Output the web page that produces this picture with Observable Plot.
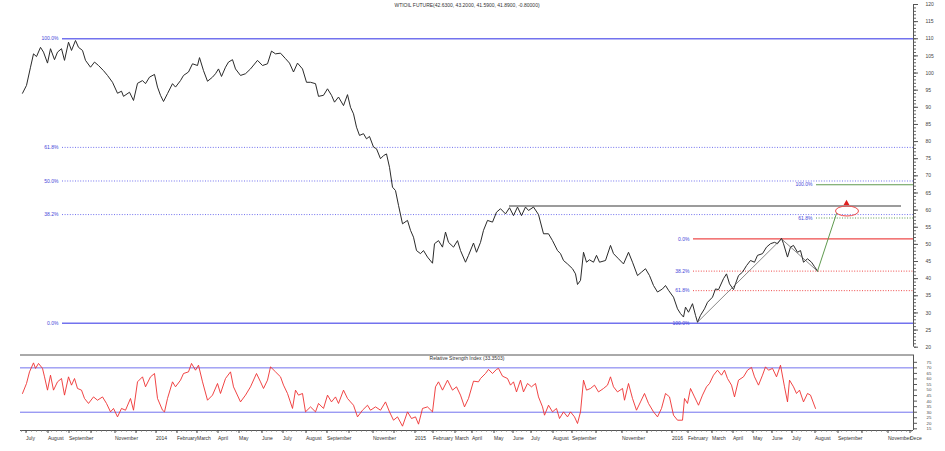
<!DOCTYPE html>
<html><head><meta charset="utf-8">
<script src="https://cdn.jsdelivr.net/npm/d3@7"></script>
<script src="https://cdn.jsdelivr.net/npm/@observablehq/plot@0.6"></script>
<style>
html,body{margin:0;padding:0;background:#fff;}
#chart svg{display:block;}
</style></head><body><div id="chart"></div>
<script>
// ---- data (x = trading-bar index) ----
const chartTitle = "WTIOIL FUTURE(42.6300, 43.2000, 41.5900, 41.8900, -0.80000)";
const rsiTitle = "Relative Strength Index (33.3503)";

const priceBars = [
  1,5,9,12,15,19,22,26,29,33,
  36,40,43,47,50,54,57,61,64,69,
  73,77,82,86,91,96,100,102,108,112,
  116,121,124,128,133,136,139,142,146,151,
  154,159,162,167,171,176,178,182,186,191,
  194,197,200,204,207,211,214,219,224,229,
  236,241,246,250,254,259,264,268,272,276,
  281,285,289,294,297,302,306,310,313,317,
  322,326,329,332,335,338,342,345,348,352,
  355,359,362,365,368,371,374,377,381,386,
  389,392,395,399,402,406,411,413,417,421,
  424,427,432,436,439,444,447,452,455,459,
  462,466,471,475,479,484,488,492,496,500,
  504,507,512,517,522,527,531,536,539,542,
  546,551,554,556,559,562,565,568,572,575,
  578,584,589,592,597,602,607,611,616,620,
  624,628,632,636,641,644,647,652,656,659,
  662,664,667,671,674,676,679,683,686,691,
  694,697,702,705,708,712,714,717,721,725,
  729,733,736,741,745,749,753,756,760,762,
  766,769,772,776,779,782,786,790,793,796
];
const priceValues = [
  94.1,96.4,101.7,105.6,104.8,107.5,106.1,102.9,107.1,103.9,
  106.1,107.1,103.7,109,106.6,109.5,107.5,106.6,103.7,101.7,
  103.2,102.2,100.7,99.3,97.3,94.1,94.7,93.2,94.4,92,
  97,97.8,96.9,98.8,99.6,95.9,93.5,91.7,94,96.9,
  95.9,97.8,99.3,100.3,102.7,102.2,104.5,100.7,97.6,98.8,
  99.8,101.2,99,101.7,103.2,103.9,101.2,99.3,99.8,101.2,
  103.7,102.2,102.7,106.4,105.6,105.8,104.2,102.9,100.3,102.9,
  101.2,97.3,97.3,96.9,93.2,93.5,95.4,93.5,91.5,93,
  90.5,93.7,90,88.1,84.2,81.8,82.3,80.8,81.5,78.4,
  77.9,75,75.9,76.4,72.5,66.7,65.7,61.4,56,57,
  54.1,52.1,48.2,47.3,48.2,46.3,44.5,50.2,51.1,49.2,
  53.6,50.6,49.2,51.1,48.2,44.8,46.8,50.4,47.7,50.6,
  54.1,57,56.5,59.4,60.4,58.9,60.7,58.4,60.9,58.4,
  60.9,59.9,60.9,58.7,53.1,53.1,51.1,48.2,47.3,45.3,
  44.3,42.9,41.4,38.3,39.5,47.7,44.8,45.5,44.8,46.8,
  44.8,45.3,49.7,47.3,45.8,44.3,47.7,44.8,40.9,41.9,
  42.9,40.9,38,36.1,37,38,36.6,34.6,31.2,29.8,
  28.8,31.7,30.2,32.7,29.3,27.3,29.3,31.2,33.1,34.6,
  37,36.8,40,41.4,38.5,36.8,38.5,40.9,41.9,43.8,
  45.3,44.8,46.8,47.3,49.2,50.2,50.6,50.2,51.8,50.2,
  46.3,49.2,49.7,47.7,48.2,44.8,45.8,44.8,43.5,42.2
];

const rsiBars = [
  1,5,8,12,14,17,21,23,26,29,
  32,36,40,43,47,50,53,56,60,63,
  67,72,76,81,85,89,92,96,100,104,
  109,112,116,121,124,129,133,136,141,143,
  146,151,154,159,162,167,170,174,177,181,
  186,191,196,199,204,209,212,219,224,229,
  235,239,242,246,249,254,259,262,266,271,
  274,277,281,284,289,294,297,302,306,310,
  314,317,322,326,329,332,336,341,346,349,
  354,359,364,368,372,376,381,386,390,394,
  397,401,406,411,414,417,421,426,431,435,
  439,443,447,452,457,459,464,467,471,475,
  477,481,486,489,492,495,499,502,506,510,
  514,517,521,523,527,531,535,538,542,546,
  549,553,556,559,562,565,569,573,577,582,
  586,589,592,596,601,603,607,611,615,619,
  623,627,632,636,640,644,648,652,656,661,
  663,666,669,673,677,681,685,688,692,696,
  700,703,706,710,713,717,722,726,730,733,
  737,741,744,747,751,755,759,763,766,768,
  772,775,778,782,786,789,794
];
const rsiValues = [
  46.9,55.9,66.4,74.5,69.5,74,69.5,61.9,49.9,63.4,
  49.9,57.4,60.4,45.4,61.9,54.4,60.4,51.4,49.9,42.4,
  37.9,43.8,40.8,43.8,37.9,30.3,33.4,25.8,33.4,31.8,
  42.4,31.8,57.4,61.9,52.9,61.9,64.9,42.4,31.8,30.3,
  42.4,57.4,52.9,58.9,64.9,66.4,74,67.9,72.4,57.4,
  40.8,45.4,55.9,46.9,60.4,66.4,52.9,39.3,45.4,52.9,
  64.9,57.4,51.4,58.9,70.9,66.4,61.9,54.4,46.9,33.4,
  49.9,45.4,46.9,30.3,34.8,30.3,37.9,33.4,45.4,39.3,
  43.8,37.9,49.9,42.4,39.3,36.3,25.8,31.8,36.3,31.8,
  34.8,31.8,39.3,30.3,22.8,25.8,17.4,30.3,24.3,25.8,
  19.2,33.4,34.8,30.3,52.9,57.4,49.9,58.9,49.9,52.9,
  45.4,34.8,42.4,58,57.4,60.4,64.9,68.6,64.9,68.6,
  69.5,62.5,60.4,54.4,57.4,48.3,58.9,48.3,55.9,52.9,
  55.9,43.8,34.8,27.3,36.3,30.3,33.4,24.3,30.3,25.8,
  30.3,25.8,19.8,30.3,58.9,49.9,51.4,54.4,48.3,51.4,
  54.4,61.9,52.9,48.3,51.4,40.8,55.9,42.4,31.8,39.3,
  46.9,37.9,30.3,25.8,33.4,46.9,43.8,27.3,22.8,22.8,
  42.4,37.9,51.4,43.8,36.3,45.4,52.9,55.9,63.4,67.9,
  63.4,67.9,60.4,54.4,43.8,58.9,61.9,67.9,70.4,61.9,
  54.4,63.4,70.9,67.9,69.5,61.9,72.4,52.9,39.3,58.9,
  52.9,46.9,49.9,39.3,46.9,45.4,33.4
];

// Fibonacci retracement of the 2013-2016 decline (blue)
const bigFibLevels = [110, 78.3, 68.5, 58.7, 27];
const bigFibLabels = ["100.0%", "61.8%", "50.0%", "38.2%", "0.0%"];
const bigFibStartBar = 41;
// Fibonacci retracement of the 2016 rally (red)
const rallyFibLevels = [51.6, 42.2, 36.5, 27];
const rallyFibLabels = ["0.0%", "38.2%", "61.8%", "100.0%"];
const rallyFibStartBar = 672;
// Projection of the rally from the latest low (green)
const projFibLevels = [67.4, 57.7];
const projFibLabels = ["100.0%", "61.8%"];
const projFibStartBar = 795;
const lastBar = 892;
// horizontal resistance (2015 highs)
const resistanceLevel = 61.2;
const resistanceBars = [488, 880];
// zig-zag swing points and projected move
const swingBars = [676, 760, 796];
const swingValues = [27.3, 51.6, 42.2];
const projBars = [796, 815];
const projValues = [42.2, 59.0];
const targetBar = 826, targetValue = 59.6;
const markerBar = 825, markerValue = 62.0;

// axis ticks
const priceTicks = d3.range(20, 121, 5);
const rsiTicks = d3.range(15, 76, 5);
const rsiBands = [70, 30];
const monthTickBars = [3,25,46,68,92,113,133,154,174,195,216,239,260,283,304,326,350,371,392,410,432,449,471,490,508,530,549,573,599,624,649,665,689,710,730,749,769,792,815,839,865,887];
const monthTickLabels = ["July","August","September","","November","","2014","February","March","April","May","June","July","August","September","","November","","2015","February","March","April","May","June","July","August","September","","November","","2016","February","March","April","May","June","July","August","September","","November","Dece"];

// ---- build ----
const W = 945;
const xDomain = [-1, 892];
const FONT = "'Liberation Sans', Arial, sans-serif";
const BLUE = "#7272ee", LABEL = "#4646d8", RED = "#ee4a4a", GREEN = "#5f9a4f";

const price = priceBars.map((b, i) => ({bar: b, v: priceValues[i]}));
const rsi = rsiBars.map((b, i) => ({bar: b, v: rsiValues[i]}));
const mk = (levels, labels, start) => levels.map((v, i) => ({v, label: labels[i], x1: start, x2: lastBar, lx: start - 4}));
const bigFib = mk(bigFibLevels, bigFibLabels, bigFibStartBar);
const rallyFib = mk(rallyFibLevels, rallyFibLabels, rallyFibStartBar);
const projFib = mk(projFibLevels, projFibLabels, projFibStartBar);
const solid = d => d.label === "0.0%" || d.label === "100.0%";
const swings = swingBars.map((b, i) => ({bar: b, v: swingValues[i]}));
const proj = projBars.map((b, i) => ({bar: b, v: projValues[i]}));

function ellipseMark(points) {
  return (index, scales) => {
    const g = d3.create("svg:g");
    for (const d of points) {
      g.append("ellipse")
        .attr("cx", scales.x(d.bar)).attr("cy", scales.y(d.v))
        .attr("rx", 11.5).attr("ry", 5)
        .attr("fill", "none").attr("stroke", RED).attr("stroke-width", 1);
    }
    return g.node();
  };
}

const pricePlot = Plot.plot({
  width: W, height: 354,
  marginLeft: 20, marginRight: 32, marginTop: 4, marginBottom: 7.3,
  x: {domain: xDomain, axis: null, label: null},
  y: {domain: [20, 120], axis: null, label: null},
  style: {fontFamily: FONT, background: "#fff", overflow: "visible"},
  marks: [
    Plot.ruleY(bigFib.filter(solid), {y: "v", x1: "x1", x2: "x2", stroke: BLUE, strokeWidth: 1.4}),
    Plot.ruleY(bigFib.filter(d => !solid(d)), {y: "v", x1: "x1", x2: "x2", stroke: BLUE, strokeWidth: 1, strokeDasharray: "1 1.6"}),
    Plot.text(bigFib, {x: "lx", y: "v", text: "label", textAnchor: "end", fontSize: 5, fill: LABEL}),
    Plot.ruleY(rallyFib.filter(d => d.label === "0.0%"), {y: "v", x1: "x1", x2: "x2", stroke: RED, strokeWidth: 1.2}),
    Plot.ruleY(rallyFib.filter(d => !solid(d)), {y: "v", x1: "x1", x2: "x2", stroke: RED, strokeWidth: 1, strokeDasharray: "1 1.6"}),
    Plot.text(rallyFib, {x: "lx", y: "v", text: "label", textAnchor: "end", fontSize: 5, fill: LABEL}),
    Plot.ruleY(projFib.filter(solid), {y: "v", x1: "x1", x2: "x2", stroke: GREEN, strokeWidth: 1.1}),
    Plot.ruleY(projFib.filter(d => !solid(d)), {y: "v", x1: "x1", x2: "x2", stroke: GREEN, strokeWidth: 1, strokeDasharray: "1 1.6"}),
    Plot.text(projFib, {x: "lx", y: "v", text: "label", textAnchor: "end", fontSize: 5, fill: LABEL}),
    Plot.ruleY([resistanceLevel], {x1: resistanceBars[0], x2: resistanceBars[1], stroke: "#7a7a7a", strokeWidth: 1.4}),
    Plot.line(price, {x: "bar", y: "v", stroke: "#2a2a2a", strokeWidth: 1}),
    Plot.line(swings, {x: "bar", y: "v", stroke: "#555", strokeWidth: 0.7}),
    Plot.line(proj, {x: "bar", y: "v", stroke: GREEN, strokeWidth: 1}),
    ellipseMark([{bar: targetBar, v: targetValue}]),
    Plot.dot([{bar: markerBar, v: markerValue}], {x: "bar", y: "v", symbol: "triangle", fill: "#e02020", r: 2.2}),
    Plot.ruleX([lastBar], {stroke: "#555", strokeWidth: 1}),
    Plot.axisY(d3.range(20, 121, 1), {anchor: "right", label: null, tickSize: 2, tickFormat: () => "", stroke: "#666"}),
    Plot.axisY(priceTicks, {anchor: "right", label: null, tickSize: 4, tickPadding: 8, fontSize: 5, fill: "#444", stroke: "#555"}),
    Plot.text([chartTitle], {frameAnchor: "top", text: d => d, fontSize: 5, fill: "#333", dy: -1})
  ]
});

const rsiPlot = Plot.plot({
  width: W, height: 97,
  marginLeft: 20, marginRight: 32, marginTop: 0.5, marginBottom: 21,
  x: {domain: xDomain, axis: null, label: null},
  y: {domain: [13.5, 81.6], axis: null, label: null},
  style: {fontFamily: FONT, background: "#fff", overflow: "visible"},
  marks: [
    Plot.ruleY([81.6], {stroke: "#555", strokeWidth: 1}),
    Plot.ruleY(rsiBands, {stroke: BLUE, strokeWidth: 1}),
    Plot.line(rsi, {x: "bar", y: "v", stroke: "#ee3030", strokeWidth: 0.9}),
    Plot.text([rsiTitle], {frameAnchor: "top", text: d => d, fontSize: 5, fill: "#333", dy: 1}),
    Plot.ruleY([13.5], {stroke: "#555", strokeWidth: 1}),
    Plot.ruleX([lastBar], {stroke: "#555", strokeWidth: 1}),
    Plot.axisY(rsiTicks, {anchor: "right", label: null, tickSize: 3, tickPadding: 10, fontSize: 4.3, fill: "#444", stroke: "#555"}),
    Plot.axisX(d3.range(0, 892, 5), {anchor: "bottom", label: null, tickSize: 1.5, tickFormat: () => "", stroke: "#666"}),
    Plot.axisX(monthTickBars, {anchor: "bottom", label: null, tickSize: 3, tickPadding: 3, fontSize: 5, fill: "#333", stroke: "#444",
      textAnchor: "start", dx: 1.5, tickFormat: d => monthTickLabels[monthTickBars.indexOf(d)]})
  ]
});

document.getElementById("chart").append(pricePlot, rsiPlot);
</script>
</body></html>
